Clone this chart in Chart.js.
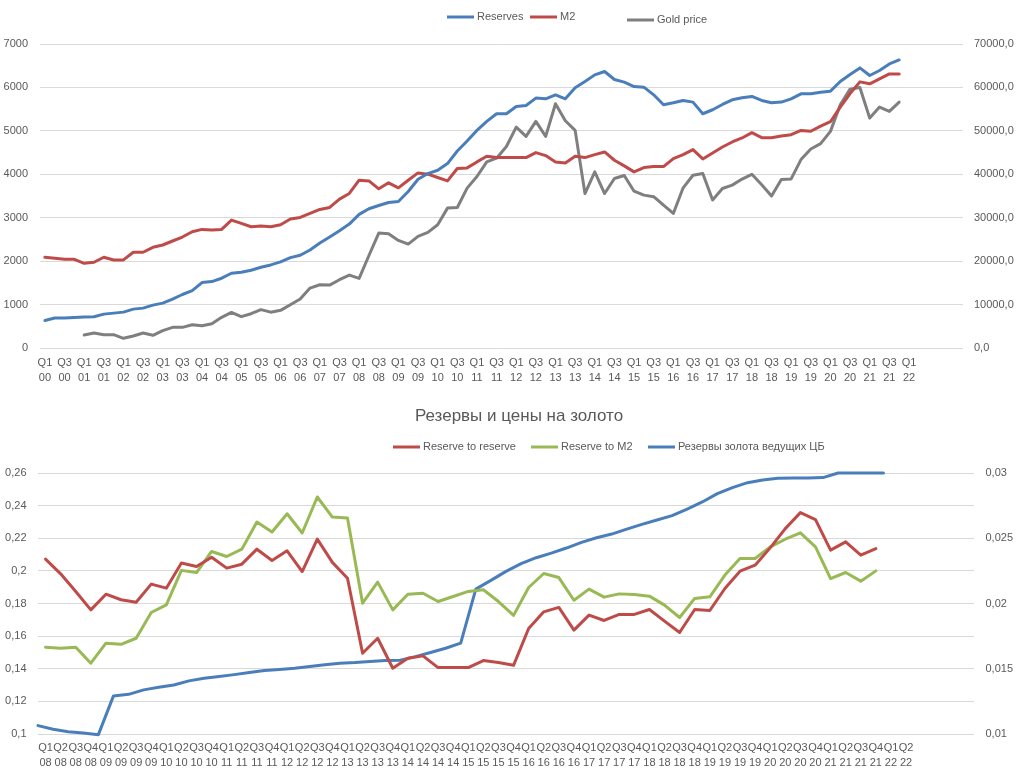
<!DOCTYPE html>
<html>
<head>
<meta charset="utf-8">
<script src="https://cdn.jsdelivr.net/npm/chart.js@4.4.1/dist/chart.umd.min.js"></script>
<style>
  html, body { margin: 0; padding: 0; background: #ffffff; }
  #wrap { position: relative; width: 1021px; height: 778px; overflow: hidden; }
  #topBox { position: absolute; left: 0; top: 0; width: 1021px; height: 390px; }
  #botBox { position: absolute; left: 0; top: 395px; width: 1021px; height: 383px; }
  canvas { display: block; }
</style>
</head>
<body>
<div id="wrap">
  <div id="topBox"><canvas id="topChart" width="1021" height="390" style="width:1021px;height:390px"></canvas></div>
  <div id="botBox"><canvas id="botChart" width="1021" height="383" style="width:1021px;height:383px"></canvas></div>
</div>
<script>
// ---------------- DATA: top chart ----------------
const topQuarters = [
  "Q1 00","Q2 00","Q3 00","Q4 00","Q1 01","Q2 01","Q3 01","Q4 01","Q1 02","Q2 02","Q3 02","Q4 02",
  "Q1 03","Q2 03","Q3 03","Q4 03","Q1 04","Q2 04","Q3 04","Q4 04","Q1 05","Q2 05","Q3 05","Q4 05",
  "Q1 06","Q2 06","Q3 06","Q4 06","Q1 07","Q2 07","Q3 07","Q4 07","Q1 08","Q2 08","Q3 08","Q4 08",
  "Q1 09","Q2 09","Q3 09","Q4 09","Q1 10","Q2 10","Q3 10","Q4 10","Q1 11","Q2 11","Q3 11","Q4 11",
  "Q1 12","Q2 12","Q3 12","Q4 12","Q1 13","Q2 13","Q3 13","Q4 13","Q1 14","Q2 14","Q3 14","Q4 14",
  "Q1 15","Q2 15","Q3 15","Q4 15","Q1 16","Q2 16","Q3 16","Q4 16","Q1 17","Q2 17","Q3 17","Q4 17",
  "Q1 18","Q2 18","Q3 18","Q4 18","Q1 19","Q2 19","Q3 19","Q4 19","Q1 20","Q2 20","Q3 20","Q4 20",
  "Q1 21","Q2 21","Q3 21","Q4 21","Q1 22","","","","",""
];
const reserves = [
  635, 690, 690, 700, 712, 720, 780, 803, 826, 895,
  918, 987, 1033, 1125, 1232, 1323, 1507, 1530, 1607, 1721,
  1744, 1790, 1859, 1913, 1982, 2081, 2135, 2257, 2418, 2555,
  2701, 2854, 3076, 3206, 3282, 3351, 3374, 3604, 3887, 4017,
  4093, 4246, 4537, 4767, 5011, 5218, 5394, 5394, 5562, 5585,
  5754, 5738, 5830, 5738, 5991, 6136, 6289, 6366, 6182, 6121,
  6021, 6006, 5830, 5600, 5646, 5700, 5662, 5394, 5486, 5608,
  5715, 5761, 5792, 5700, 5646, 5662, 5738, 5853, 5853, 5891,
  5914, 6136, 6297, 6450, 6274, 6389, 6542, 6633
];
const m2 = [
  2089, 2066, 2043, 2043, 1951, 1974, 2089, 2028, 2028, 2204,
  2204, 2318, 2372, 2464, 2555, 2678, 2731, 2716, 2731, 2946,
  2869, 2793, 2808, 2793, 2839, 2969, 3007, 3099, 3190, 3236,
  3428, 3558, 3864, 3848, 3665, 3803, 3688, 3864, 4032, 4002,
  3925, 3848, 4132, 4147, 4285, 4415, 4384, 4384, 4384, 4384,
  4499, 4430, 4285, 4262, 4415, 4384, 4453, 4514, 4323, 4193,
  4055, 4155, 4177, 4177, 4361, 4453, 4568, 4353, 4491, 4629,
  4744, 4836, 4958, 4843, 4843, 4881, 4912, 5010, 4990, 5110,
  5210, 5547, 5860, 6128, 6083, 6197, 6312, 6312
];
const goldPrice = [
  null, null, null, null, 2990, 3450, 3070, 3070, 2230, 2760,
  3450, 2920, 3990, 4760, 4760, 5370, 5140, 5600, 7060, 8200,
  7210, 7900, 8830, 8250, 8670, 9970, 11270, 13800, 14570, 14490,
  15720, 16790, 16030, 21300, 26460, 26300, 24770, 23930, 25690, 26610,
  28370, 32210, 32360, 36810, 39490, 42870, 43710, 46400, 50870, 48730,
  52180, 48730, 56230, 52330, 50110, 35570, 40550, 35570, 39020, 39710,
  36110, 35200, 34850, 32900, 30980, 36880, 39780, 40200, 34100, 36720,
  37500, 38900, 40000, 37600, 35000, 38800, 38940, 43380, 45830, 47050,
  49880, 56000, 59600, 59980, 52940, 55470, 54470, 56610
];
const topLeftTicks = [0, 1000, 2000, 3000, 4000, 5000, 6000, 7000];
const topRightTicks = [0, 10000, 20000, 30000, 40000, 50000, 60000, 70000];

// ---------------- DATA: bottom chart ----------------
const botTitle = "Резервы и цены на золото";
const botQuarters = [
  "Q1 08","Q2 08","Q3 08","Q4 08","Q1 09","Q2 09","Q3 09","Q4 09","Q1 10","Q2 10","Q3 10","Q4 10",
  "Q1 11","Q2 11","Q3 11","Q4 11","Q1 12","Q2 12","Q3 12","Q4 12","Q1 13","Q2 13","Q3 13","Q4 13",
  "Q1 14","Q2 14","Q3 14","Q4 14","Q1 15","Q2 15","Q3 15","Q4 15","Q1 16","Q2 16","Q3 16","Q4 16",
  "Q1 17","Q2 17","Q3 17","Q4 17","Q1 18","Q2 18","Q3 18","Q4 18","Q1 19","Q2 19","Q3 19","Q4 19",
  "Q1 20","Q2 20","Q3 20","Q4 20","Q1 21","Q2 21","Q3 21","Q4 21","Q1 22","Q2 22","","","",""
];
// secondary (hidden) category axis used by the central-bank gold series
const cbQuarters = [
  "Q1 08","Q2 08","Q3 08","Q4 08","Q1 09","Q2 09","Q3 09","Q4 09","Q1 10","Q2 10","Q3 10","Q4 10",
  "Q1 11","Q2 11","Q3 11","Q4 11","Q1 12","Q2 12","Q3 12","Q4 12","Q1 13","Q2 13","Q3 13","Q4 13",
  "Q1 14","Q2 14","Q3 14","Q4 14","Q1 15","Q2 15","Q3 15","Q4 15","Q1 16","Q2 16","Q3 16","Q4 16",
  "Q1 17","Q2 17","Q3 17","Q4 17","Q1 18","Q2 18","Q3 18","Q4 18","Q1 19","Q2 19","Q3 19","Q4 19",
  "Q1 20","Q2 20","Q3 20","Q4 20","Q1 21","Q2 21","Q3 21","Q4 21","Q1 22","Q2 22","","","","",""
];
const reserveToReserve = [
  0.2072, 0.1982, 0.1874, 0.1761, 0.1857, 0.1823, 0.1808, 0.1919, 0.1894, 0.2048,
  0.2027, 0.2084, 0.2017, 0.2041, 0.2133, 0.2064, 0.2123, 0.1996, 0.2195, 0.2052,
  0.1955, 0.1495, 0.1587, 0.1403, 0.1464, 0.1479, 0.1407, 0.1407, 0.1407, 0.1450,
  0.1438, 0.1421, 0.1647, 0.1749, 0.1776, 0.1637, 0.1729, 0.1696, 0.1733, 0.1733,
  0.1763, 0.1692, 0.1622, 0.1763, 0.1757, 0.1892, 0.1998, 0.2035, 0.2141, 0.2259,
  0.2357, 0.2314, 0.2127, 0.2178, 0.2096, 0.2137
];
const reserveToM2 = [
  0.1532, 0.1526, 0.1532, 0.1434, 0.1557, 0.1550, 0.1587, 0.1745, 0.1792, 0.2003,
  0.1990, 0.2119, 0.2088, 0.2133, 0.2299, 0.2238, 0.2350, 0.2232, 0.2453, 0.2330,
  0.2324, 0.1802, 0.1931, 0.1761, 0.1857, 0.1863, 0.1812, 0.1843, 0.1874, 0.1884,
  0.1812, 0.1727, 0.1898, 0.1984, 0.1959, 0.1820, 0.1888, 0.1839, 0.1859, 0.1855,
  0.1845, 0.1790, 0.1714, 0.1831, 0.1841, 0.1974, 0.2076, 0.2076, 0.2147, 0.2194,
  0.2233, 0.2147, 0.1953, 0.1990, 0.1937, 0.2000
];
const cbGoldReserves = [
  0.01064, 0.01036, 0.01018, 0.01008, 0.00995, 0.01292, 0.01304, 0.01338, 0.01358, 0.01376,
  0.01407, 0.01427, 0.01440, 0.01455, 0.01471, 0.01486, 0.01494, 0.01504, 0.01517, 0.01530,
  0.01542, 0.01547, 0.01555, 0.01563, 0.01565, 0.01593, 0.01624, 0.01657, 0.01696, 0.02110,
  0.02177, 0.02246, 0.02305, 0.02351, 0.02386, 0.02425, 0.02468, 0.02504, 0.02532, 0.02570,
  0.02606, 0.02640, 0.02673, 0.02724, 0.02778, 0.02842, 0.02888, 0.02926, 0.02947, 0.02960,
  0.02962, 0.02962, 0.02965, 0.03000, 0.03000, 0.03000, 0.03000
];

// ---------------- styling ----------------
const FONT = '"Liberation Sans", Arial, sans-serif';
const TXT = '#595959';
const GRID = '#d9d9d9';
const C_BLUE = '#4a7ebb', C_RED = '#be4b48', C_GRAY = '#7f7f7f', C_GREEN = '#98b954';

const overlay = {
  id: 'overlay',
  afterDraw(chart, args, opts) {
    const ctx = chart.ctx;
    ctx.save();
    if (opts.title) {
      ctx.font = opts.title.font;
      ctx.fillStyle = TXT;
      ctx.textAlign = 'center';
      ctx.textBaseline = 'middle';
      ctx.fillText(opts.title.text, opts.title.x, opts.title.y);
    }
    (opts.items || []).forEach(it => {
      const ds = chart.data.datasets[it.ds];
      ctx.strokeStyle = ds.borderColor;
      ctx.lineWidth = 3;
      ctx.lineCap = 'butt';
      ctx.beginPath();
      ctx.moveTo(it.x, it.y);
      ctx.lineTo(it.x + 27, it.y);
      ctx.stroke();
      ctx.font = '11px ' + FONT;
      ctx.fillStyle = TXT;
      ctx.textAlign = 'left';
      ctx.textBaseline = 'middle';
      ctx.fillText(ds.label, it.x + 30, it.y);
    });
    ctx.restore();
  }
};

function lineDs(label, data, color, yAxis, xAxis) {
  return {
    label, data, borderColor: color, backgroundColor: color,
    borderWidth: 3, pointRadius: 0, pointHoverRadius: 0, tension: 0, fill: false,
    borderJoinStyle: 'round', borderCapStyle: 'round', clip: false,
    yAxisID: yAxis, xAxisID: xAxis || 'x', spanGaps: false
  };
}
const tickFont = { family: FONT, size: 11, lineHeight: 15 / 11 };

// ---------------- top chart ----------------
new Chart(document.getElementById('topChart'), {
  type: 'line',
  data: {
    labels: topQuarters,
    datasets: [
      lineDs('Reserves', reserves, C_BLUE, 'y'),
      lineDs('M2', m2, C_RED, 'y'),
      lineDs('Gold price', goldPrice, C_GRAY, 'y1')
    ]
  },
  options: {
    responsive: false, animation: false, events: [],
    layout: { padding: { top: 44, left: 0, right: 0, bottom: 0 } },
    plugins: {
      legend: { display: false }, tooltip: { enabled: false },
      overlay: { items: [ { ds: 0, x: 447, y: 17 }, { ds: 1, x: 530, y: 17 }, { ds: 2, x: 627, y: 20 } ] }
    },
    scales: {
      x: {
        type: 'category', offset: true,
        grid: { display: false, drawTicks: false }, border: { display: false },
        ticks: {
          autoSkip: false, maxRotation: 0, minRotation: 0, padding: 7.5,
          color: TXT, font: tickFont,
          callback(v, i) { const l = topQuarters[i]; return (i % 2 === 0 && l) ? l.split(' ') : ''; }
        },
        afterFit(s) { s.height = 42; }
      },
      y: {
        position: 'left', min: topLeftTicks[0], max: topLeftTicks[topLeftTicks.length - 1],
        grid: { color: GRID, lineWidth: 1, drawTicks: false }, border: { display: false },
        ticks: { stepSize: topLeftTicks[1] - topLeftTicks[0], padding: 12, color: TXT, font: tickFont,
          callback: v => String(Math.round(v)) },
        afterFit(s) { s.width = 40; }
      },
      y1: {
        position: 'right', min: topRightTicks[0], max: topRightTicks[topRightTicks.length - 1],
        grid: { display: false, drawTicks: false }, border: { display: false },
        ticks: { stepSize: topRightTicks[1] - topRightTicks[0], padding: 11, color: TXT, font: tickFont,
          callback: v => Number(v).toFixed(1).replace('.', ',') },
        afterFit(s) { s.width = 58; }
      }
    }
  },
  plugins: [overlay]
});

// ---------------- bottom chart ----------------
new Chart(document.getElementById('botChart'), {
  type: 'line',
  data: {
    labels: botQuarters,
    datasets: [
      lineDs('Reserve to reserve', reserveToReserve, C_RED, 'y'),
      lineDs('Reserve to M2', reserveToM2, C_GREEN, 'y'),
      lineDs('Резервы золота ведущих ЦБ', cbGoldReserves, C_BLUE, 'y1', 'x2')
    ]
  },
  options: {
    responsive: false, animation: false, events: [],
    layout: { padding: { top: 78, left: 0, right: 0, bottom: 0 } },
    plugins: {
      legend: { display: false }, tooltip: { enabled: false },
      overlay: {
        title: { text: botTitle, x: 519, y: 21, font: '17px ' + FONT },
        items: [ { ds: 0, x: 393, y: 52 }, { ds: 1, x: 531, y: 52 }, { ds: 2, x: 648, y: 52 } ]
      }
    },
    scales: {
      x: {
        type: 'category', offset: true,
        grid: { display: false, drawTicks: false }, border: { display: false },
        ticks: {
          autoSkip: false, maxRotation: 0, minRotation: 0, padding: 6.5,
          color: TXT, font: tickFont,
          callback(v, i) { const l = botQuarters[i]; return l ? l.split(' ') : ''; }
        },
        afterFit(s) { s.height = 44; }
      },
      x2: {
        type: 'category', labels: cbQuarters, offset: false, display: false,
        grid: { display: false }
      },
      y: {
        position: 'left', min: 0.1, max: 0.26,
        grid: { color: GRID, lineWidth: 1, drawTicks: false }, border: { display: false },
        ticks: { stepSize: 0.02, padding: 11.5, color: TXT, font: tickFont,
          callback: v => String(+Number(v).toFixed(2)).replace('.', ',') },
        afterFit(s) { s.width = 38; }
      },
      y1: {
        position: 'right', min: 0.01, max: 0.03,
        grid: { display: false, drawTicks: false }, border: { display: false },
        ticks: { stepSize: 0.005, padding: 11.5, color: TXT, font: tickFont,
          callback: v => String(+Number(v).toFixed(3)).replace('.', ',') },
        afterFit(s) { s.width = 47; }
      }
    }
  },
  plugins: [overlay]
});
</script>
</body>
</html>
